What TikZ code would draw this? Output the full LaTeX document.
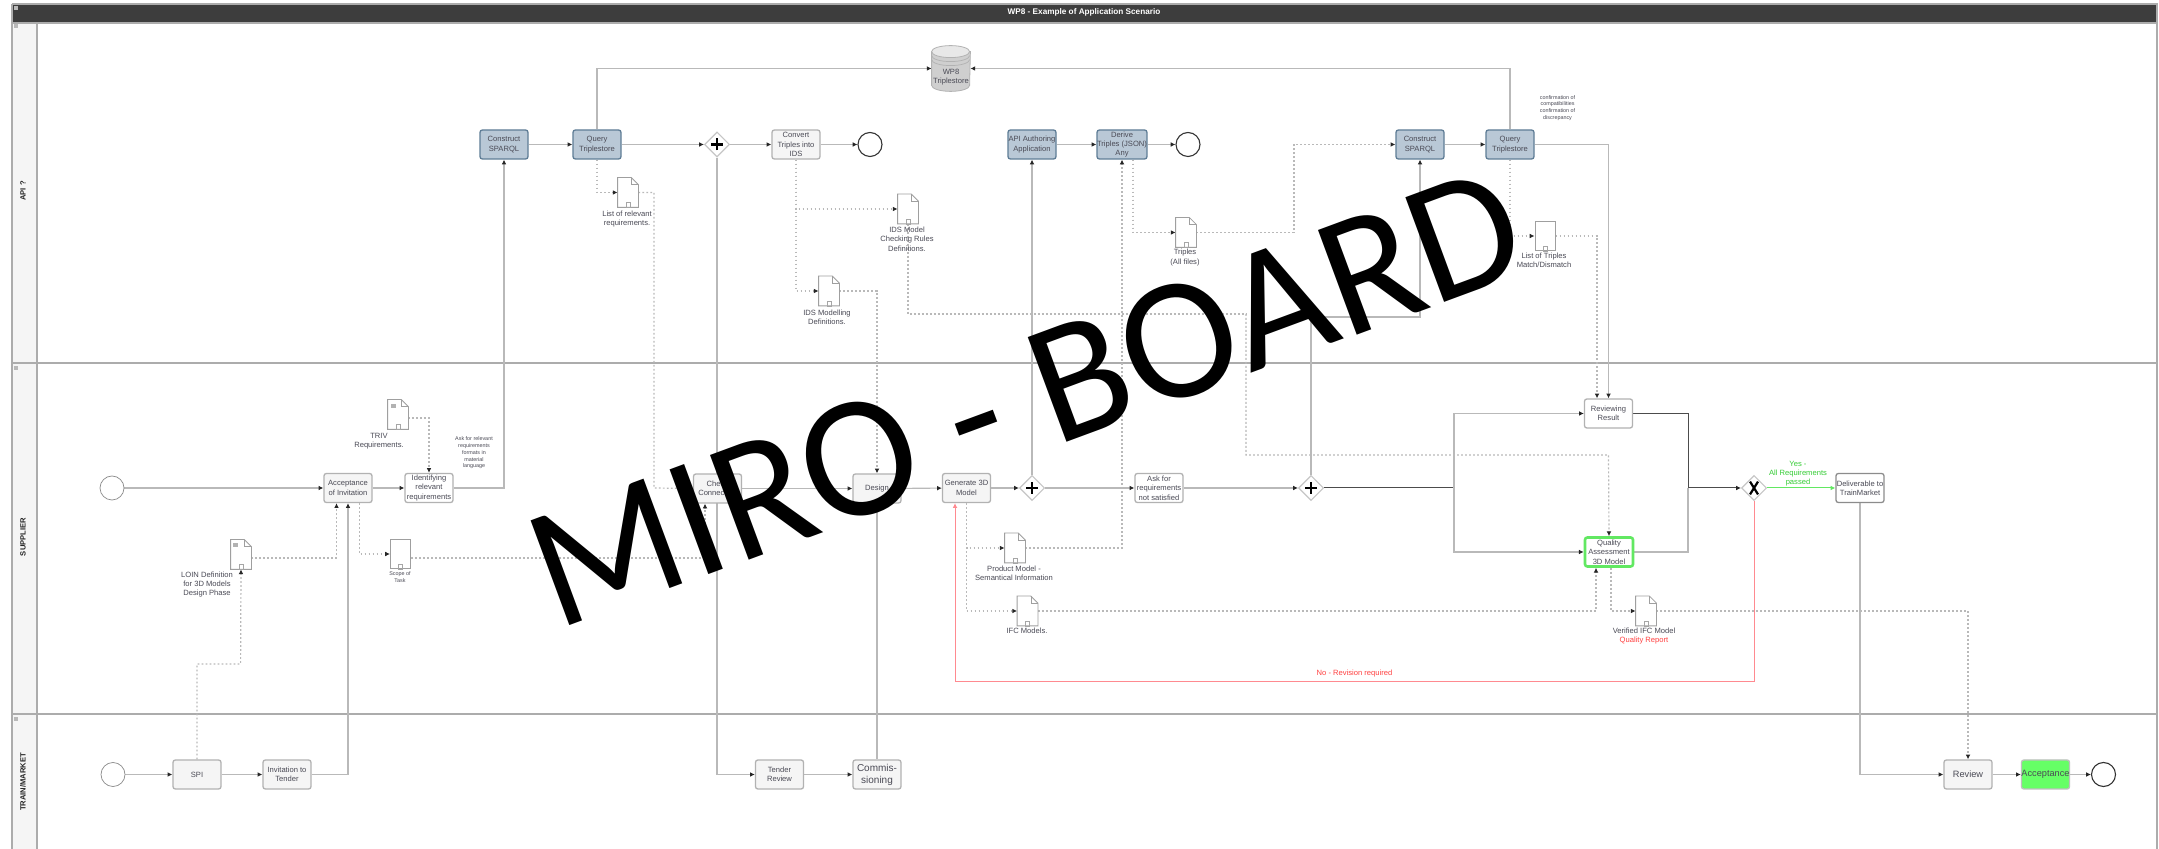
\documentclass[tikz,border=0pt]{standalone}
\usepackage{fontspec}
\setmainfont{Liberation Sans}
\newfontfamily\mirofont{Carlito}
\usetikzlibrary{shapes.geometric,arrows.meta,calc}
\pgfdeclarelayer{back}
\pgfsetlayers{back,main}
\definecolor{inkc}{HTML}{4A4A55}
\definecolor{bluefill}{HTML}{B9C8D6}
\definecolor{blueline}{HTML}{5F7D96}
\definecolor{redc}{HTML}{FF8A90}
\definecolor{greenc}{HTML}{62E862}
\definecolor{brightgreen}{HTML}{66FF66}
\tikzset{
  txt/.style={font=\fontsize{3.8}{4.65}\selectfont,align=center,inner sep=0pt,text=inkc},
  tinytxt/.style={font=\fontsize{2.7}{3.4}\selectfont,align=center,inner sep=0pt,text=inkc},
  box/.style={txt,draw=gray!60,fill=gray!8,rounded corners=1.2pt,line width=.65pt,minimum width=24pt,minimum height=14.5pt},
  bluebox/.style={box,draw=blueline,fill=bluefill},
  whitebox/.style={box,fill=white},
  startev/.style={circle,draw=gray!90,fill=white,line width=.35pt,minimum size=12pt,inner sep=0pt},
  endev/.style={circle,draw=black!80,fill=white,line width=.55pt,minimum size=12pt,inner sep=0pt},
  gw/.style={diamond,draw=gray!45,fill=white,line width=.55pt,minimum width=12.5pt,minimum height=12.5pt,inner sep=0pt},
  plusgw/.style={gw,path picture={
    \draw[black,line width=1.4pt] ([xshift=-3pt]path picture bounding box.center) -- ([xshift=3pt]path picture bounding box.center);
    \draw[black,line width=1.4pt] ([yshift=-3pt]path picture bounding box.center) -- ([yshift=3pt]path picture bounding box.center);}},
  xgw/.style={gw,path picture={
    \draw[black,line width=1.1pt] ([shift={(-2pt,-3.2pt)}]path picture bounding box.center) -- ([shift={(2pt,3.2pt)}]path picture bounding box.center);
    \draw[black,line width=1.1pt] ([shift={(-2pt,3.2pt)}]path picture bounding box.center) -- ([shift={(2pt,-3.2pt)}]path picture bounding box.center);}},
  docbox/.style={minimum width=10pt,minimum height=14.5pt,inner sep=0pt},
  docline/.style={draw=gray!75,fill=white,line width=.4pt},
  plaindoc/.style={docbox,draw=gray!75,fill=white,line width=.5pt},
  arr/.style={-{Latex[length=2.4pt,width=2.4pt,black!85]}},
  flow/.style={gray!55,line width=.55pt,arr},
  flowplain/.style={gray!55,line width=.55pt},
  flowdark/.style={black!70,line width=.5pt},
  doted/.style={gray!55,line width=.6pt,dash pattern=on .9pt off 1.1pt,arr},
  lane/.style={gray!65,line width=.75pt},
  lanelabel/.style={rotate=90,font=\bfseries\fontsize{3.8}{4.6}\selectfont,inner sep=0pt,text=black!85},
  cornermark/.style={fill=gray!55,inner sep=0pt,minimum width=1.6pt,minimum height=2pt},
  cylpart/.style={draw=gray!60,line width=.4pt},
}
\newcommand{\docn}[3]{%
  \node[docbox] (#1) at (#2,#3) {};
  \draw[docline] (#1.north west) -- ([xshift=-3.5pt]#1.north east) -- ([yshift=-3.5pt]#1.north east) -- (#1.south east) -- (#1.south west) -- cycle;
  \draw[gray!75,line width=.3pt] ([xshift=-3.5pt]#1.north east) -- ++(0,-3.5pt) -- ([yshift=-3.5pt]#1.north east);
  \draw[gray!70,line width=.35pt] ([xshift=-1pt]#1.south) rectangle ([shift={(1pt,2.5pt)}]#1.south);
}
\newcommand{\plaindocn}[3]{%
  \node[plaindoc] (#1) at (#2,#3) {};
  \draw[gray!70,line width=.35pt] ([xshift=-1pt]#1.south) rectangle ([shift={(1pt,2.5pt)}]#1.south);
}
\begin{document}
\begin{tikzpicture}[x=0.5pt,y=-0.5pt]
\useasboundingbox (0,0) rectangle (2159,849);

% ---- nodes: top lane
\node[bluebox] (con1) at (504,144.5) {Construct\\SPARQL};
\node[bluebox] (qry1) at (597,144.5) {Query\\Triplestore};
\node[plusgw] (g1) at (717,144.5) {};
\node[box] (conv) at (796,144.5) {Convert\\Triples into\\IDS};
\node[endev] (end1) at (870,144.5) {};
\node[bluebox] (apia) at (1032,144.5) {API Authoring\\Application};
\node[bluebox] (deri) at (1122,144.5) {Derive\\Triples (JSON)\\Any};
\node[endev] (end2) at (1188,144.5) {};
\node[bluebox] (con2) at (1420,144.5) {Construct\\SPARQL};
\node[bluebox] (qry2) at (1510,144.5) {Query\\Triplestore};
% triplestore cylinder
\node[minimum width=19pt,minimum height=22.5pt,inner sep=0pt] (ts) at (951,68.5) {};
\path[cylpart,fill=gray!38] ([yshift=-3pt]ts.north west) -- ([yshift=3pt]ts.south west) arc[start angle=180,end angle=360,x radius=9.5pt,y radius=3pt] -- ([yshift=-3pt]ts.north east) -- cycle;
\path[cylpart,fill=gray!18] ([yshift=-3pt]ts.north west) arc[start angle=180,end angle=-180,x radius=9.5pt,y radius=3pt];
\draw[gray!60,line width=.35pt] ([yshift=-5pt]ts.north west) arc[start angle=180,end angle=360,x radius=9.5pt,y radius=3pt];
\draw[gray!60,line width=.35pt] ([yshift=-7pt]ts.north west) arc[start angle=180,end angle=360,x radius=9.5pt,y radius=3pt];
\node[txt] (tstxt) at (951,77) {WP8\\Triplestore};

\docn{dlist}{628}{192.5}
\docn{dchk}{908}{209}
\docn{dmod}{829}{291}
\docn{dtri}{1186}{232.5}
\plaindocn{dmatch}{1545}{236}
\docn{dtriv}{398}{414.5}
\docn{dloin}{241}{554.5}
\plaindocn{dscope}{400.5}{554}
\docn{dprod}{1015}{548}
\docn{difc}{1027.5}{611}
\docn{dver}{1646}{611}

\fill[gray!60] (391,404) rectangle (396,408);
\fill[gray!60] (233,543) rectangle (238,547);

% ---- nodes: middle lane
\node[startev] (st2) at (112,488) {};
\node[box] (acc) at (348,488) {Acceptance\\of Invitation};
\node[whitebox] (idf) at (429,488) {Identifying\\relevant\\requirements};
\node[box] (chk) at (717.5,488.5) {Check\\Connection};
\node[box] (des) at (877,488.5) {Design};
\node[box] (gen) at (966.5,488) {Generate 3D\\Model};
\node[plusgw] (g2) at (1032,488) {};
\node[whitebox] (ask) at (1159,488) {Ask for\\requirements\\not satisfied};
\node[plusgw] (g3) at (1311,488) {};
\node[whitebox] (rev) at (1608.5,413.5) {Reviewing\\Result};
\node[whitebox,draw=greenc,line width=1.3pt] (qa) at (1609,552) {Quality\\Assessment\\3D Model};
\node[xgw] (gx) at (1754,488) {};
\node[whitebox,draw=gray!90] (dlv) at (1860,488) {Deliverable to\\TrainMarket};

% ---- nodes: bottom lane
\node[startev] (st3) at (113,774.5) {};
\node[box] (spi) at (197,774.5) {SPI};
\node[box] (inv) at (287,774.5) {Invitation to\\Tender};
\node[box] (tnd) at (779.5,774.5) {Tender\\Review};
\node[box,font=\fontsize{5}{6}\selectfont] (com) at (877,774.5) {Commis-\\sioning};
\node[box,font=\fontsize{4.6}{5.5}\selectfont] (rvw) at (1968,774.5) {Review};
\node[box,fill=brightgreen,draw=gray!50,font=\fontsize{4.6}{5.5}\selectfont] (acp) at (2045.5,774.5) {Acceptance};
\node[endev] (end3) at (2103.5,774.5) {};

% ---- labels
\node[txt,text=white,font=\bfseries\fontsize{4.1}{5}\selectfont] (title) at (1084,12) {WP8 - Example of Application Scenario};
\node[txt] (l1) at (627,219) {List of relevant\\requirements.};
\node[txt] (l2) at (907,239) {IDS Model\\Checking Rules\\Definitions.};
\node[txt] (l3) at (827,317) {IDS Modelling\\Definitions.};
\node[txt] (l4) at (1185,257.5) {Triples\\(All files)};
\node[txt] (l5) at (1544,260.5) {List of Triples\\Match/Dismatch};
\node[tinytxt] (l6) at (1557.5,108) {confirmation of\\compatibilities\\confirmation of\\discrepancy};
\node[txt] (l7) at (379,441) {TRIV\\Requirements.};
\node[tinytxt] (l8) at (474,453) {Ask for relevant\\requirements\\formats in\\material\\language};
\node[txt] (l9) at (207,584.5) {LOIN Definition\\for 3D Models\\Design Phase};
\node[tinytxt] (l10) at (400,577) {Scope of\\Task};
\node[txt] (l11) at (1014,573.5) {Product Model -\\Semantical Information};
\node[txt] (l12) at (1027,631) {IFC Models.};
\node[txt,text=red!75] (l13) at (1354.5,674) {No - Revision required};
\node[txt] (l14) at (1644,631) {Verified IFC Model};
\node[txt,text=red!75] (l15) at (1644,641) {Quality Report};
\node[txt,text=green!60!gray] (l16) at (1798,473.5) {Yes -\\All Requirements\\passed};
\node[lanelabel] (lab1) at (23,191) {API ?};
\node[lanelabel] (lab2) at (23,537) {SUPPLIER};
\node[lanelabel] (lab3) at (23,782) {TRAIN/MARKET};
\node[cornermark] (m0) at (16,8) {};
\node[cornermark] (m1) at (16,26) {};
\node[cornermark] (m2) at (16,368) {};
\node[cornermark] (m3) at (16,719) {};

% ---- frame, lanes and connectors behind the nodes
\begin{pgfonlayer}{back}
\fill[white] (0,0) rectangle (2159,849);
\fill[gray!8] (12,23) rectangle (37,849);
\fill[black!76] (12,4) rectangle (2157,23);
\draw[lane] (12,4) -- (2157,4) -- (2157,849);
\draw[lane] (12,4) -- (12,849);
\draw[lane] (37,23) -- (37,849);
\draw[lane] (12,23) -- (2157,23);
\draw[lane] (12,363) -- (2157,363);
\draw[lane] (12,714) -- (2157,714);

% solid flows, top
\draw[flow] (con1) -- (qry1);
\draw[flow] (qry1) -- (g1);
\draw[flow] (g1) -- (conv);
\draw[flow] (conv) -- (end1);
\draw[flow] (apia) -- (deri);
\draw[flow] (deri) -- (end2);
\draw[flow] (con2) -- (qry2);
\draw[flow] (qry1.north) |- (ts.west);
\draw[flow] (qry2.north) |- (ts.east);
\draw[flow] (idf.east) -| (con1.south);
\draw[flow] (qry2.east) -| (rev.north);
\draw[flow] (g2.north) -- (apia.south);
\draw[flow] (g3.north) |- (1420,317) -- (con2.south);

% solid flows, middle
\draw[flow] (st2) -- (acc);
\draw[flow] (acc) -- (idf);
\draw[flow] (chk) -- (des);
\draw[flow] (des) -- (gen);
\draw[flow] (gen) -- (g2);
\draw[flow] (g2) -- (ask);
\draw[flow] (ask) -- (g3);
\draw[flowdark] (g3.east) -- (1454,488);
\draw[flow] (1454,488) |- (rev.west);
\draw[flow] (1454,488) |- (qa.west);
\draw[flowdark] (rev.east) -| (1688,488);
\draw[flowplain] (qa.east) -| (1688,488);
\draw[flowdark,arr] (1688,488) -- (gx.west);
\draw[greenc,line width=.5pt,-{Latex[length=2.4pt,width=2.4pt]}] (gx.east) -- (dlv.west);
\draw[redc,line width=.45pt,-{Latex[length=2.4pt,width=2.4pt]}] (gx.south) |- (955,681) -- ([xshift=-5.75pt]gen.south);

% solid flows, bottom
\draw[flow] (st3) -- (spi);
\draw[flow] (spi) -- (inv);
\draw[flow] (inv.east) -| (acc.south);
\draw[flow] (g1.south) |- (tnd.west);
\draw[flow] (tnd) -- (com);
\draw[flow] (com.north) -- (des.south);
\draw[flow] (dlv.south) |- (rvw.west);
\draw[flow] (rvw) -- (acp);
\draw[flow] (acp) -- (end3);

% dotted associations
\draw[doted] (qry1.south) |- (dlist.west);
\draw[doted] (dlist.east) -| (654,488) -- (chk.west);
\draw[doted] (conv.south) |- (dchk.west);
\draw[doted] (conv.south) |- (dmod.west);
\draw[doted] (dmod.east) -| (des.north);
\draw[doted,-] (dchk.south) |- (1246,314);
\draw[doted] (1246,314) |- (1608.5,455) -- (qa.north);
\draw[doted] ([xshift=5.5pt]deri.south) |- (dtri.west);
\draw[doted] (dtri.east) -| (1294,144.5) -- (con2.west);
\draw[doted] (qry2.south) |- (dmatch.west);
\draw[doted] (dmatch.east) -| ([xshift=-5.75pt]rev.north);
\draw[doted] (dtriv.east |- 0,418) -| (idf.north);
\draw[doted] (spi.north) |- (240.6,664) -- (dloin.south);
\draw[doted] (dloin.east |- 0,558) -| ([xshift=-5.75pt]acc.south);
\draw[doted] ([xshift=5.75pt]acc.south) |- (dscope.west);
\draw[doted] (dscope.east |- 0,558) -| ([xshift=-6.25pt]chk.south);
\draw[doted] (gen.south) |- (dprod.west);
\draw[doted] (gen.south) |- (difc.west);
\draw[doted] (dprod.east) -| (deri.south);
\draw[doted] (difc.east) -| ([xshift=-6.5pt]qa.south);
\draw[doted] ([xshift=1pt]qa.south) |- (dver.west);
\draw[doted] (dver.east) -| (rvw.north);
\end{pgfonlayer}

% ---- overlay
\node[anchor=base west,rotate=20.3,inner sep=0pt,font=\mirofont\fontsize{87}{87}\selectfont,text=black] (miro) at (556,631) {MIRO - BOARD};
\end{tikzpicture}
\end{document}
